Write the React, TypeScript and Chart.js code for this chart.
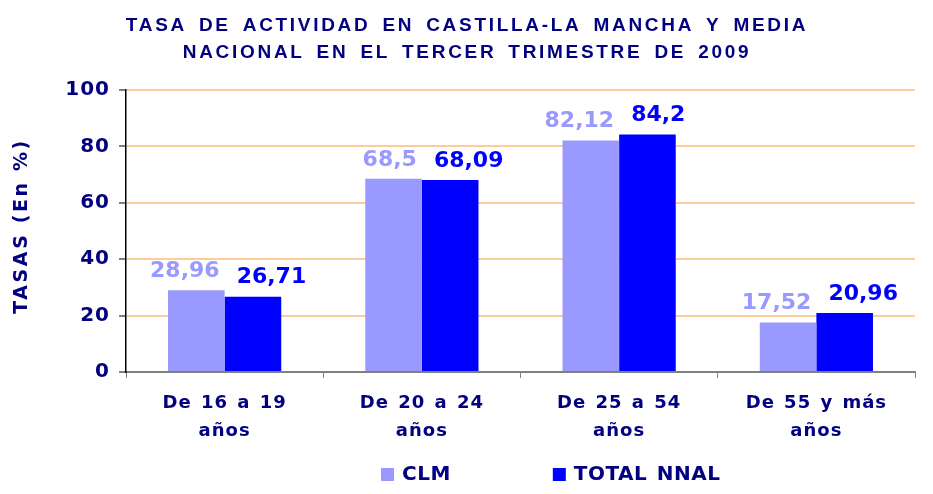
import React, { useEffect, useRef } from "react";
import { Chart, registerables } from "chart.js";

Chart.register(...registerables);

const categories: string[][] = [
  ["De 16 a 19", "años"],
  ["De 20 a 24", "años"],
  ["De 25 a 54", "años"],
  ["De 55 y más", "años"],
];
const seriesNames = ["CLM", "TOTAL NNAL"];
const clmValues = [28.96, 68.5, 82.12, 17.52];
const nnalValues = [26.71, 68.09, 84.2, 20.96];
const titleLines = [
  "TASA DE ACTIVIDAD EN CASTILLA-LA MANCHA Y MEDIA",
  "NACIONAL EN EL TERCER TRIMESTRE DE 2009",
];
const yAxisTitle = "TASAS (En %)";
const yMin = 0;
const yMax = 100;
const yStep = 20;

const NAVY = "#000080";
const CLM_COLOR = "#9999FF";
const NNAL_COLOR = "#0000FF";
const GRID_COLOR = "#FFCC99";

const fmt = (v: number) => String(v).replace(".", ",");

const spacingPlugin = {
  id: "textSpacing",
  beforeDraw(chart: any) {
    const ctx = chart.ctx as any;
    ctx.letterSpacing = "1px";
    ctx.wordSpacing = "2px";
  },
};

const titlePlugin = {
  id: "customTitle",
  afterDraw(chart: any) {
    const ctx = chart.ctx as any;
    ctx.save();
    ctx.fillStyle = NAVY;
    ctx.font = "bold 19px 'Liberation Sans'";
    ctx.letterSpacing = "2.7px";
    ctx.wordSpacing = "4px";
    ctx.textAlign = "center";
    ctx.textBaseline = "middle";
    const cx = 467;
    ctx.fillText(titleLines[0], cx, 26);
    ctx.fillText(titleLines[1], cx, 53);
    // y axis title
    ctx.letterSpacing = "2.6px";
    ctx.wordSpacing = "0px";
    ctx.font = "bold 19px 'DejaVu Sans'";
    ctx.translate(22, (chart.chartArea.top + chart.chartArea.bottom) / 2 - 5);
    ctx.rotate(-Math.PI / 2);
    ctx.fillText(yAxisTitle, 0, 0);
    ctx.restore();
  },
};

const dataLabelPlugin = {
  id: "dataLabels",
  afterDatasetsDraw(chart: any) {
    const ctx = chart.ctx as any;
    ctx.save();
    ctx.letterSpacing = "0px";
    ctx.wordSpacing = "0px";
    ctx.font = "bold 22px 'DejaVu Sans'";
    ctx.textBaseline = "middle";
    chart.data.datasets.forEach((ds: any, di: number) => {
      const meta = chart.getDatasetMeta(di);
      meta.data.forEach((bar: any, i: number) => {
        const v = ds.data[i];
        const half = bar.width / 2;
        ctx.fillStyle = di === 0 ? CLM_COLOR : NNAL_COLOR;
        if (di === 0) {
          ctx.textAlign = "right";
          ctx.fillText(fmt(v), bar.x + half - 5, bar.y - 19);
        } else {
          ctx.textAlign = "left";
          ctx.fillText(fmt(v), bar.x - half + 12, bar.y - 19);
        }
      });
    });
    ctx.restore();
  },
};

const legendPlugin = {
  id: "customLegend",
  afterDraw(chart: any) {
    const ctx = chart.ctx as any;
    ctx.save();
    ctx.letterSpacing = "0.5px";
    ctx.wordSpacing = "2px";
    ctx.font = "bold 20px 'DejaVu Sans'";
    ctx.textBaseline = "middle";
    ctx.textAlign = "left";
    const colors = [CLM_COLOR, NNAL_COLOR];
    let x = chart.chartArea.left + 255;
    const y = 475;
    seriesNames.forEach((name, i) => {
      ctx.fillStyle = colors[i];
      ctx.fillRect(x, y - 7, 13, 13);
      ctx.fillStyle = NAVY;
      ctx.fillText(name, x + 21, y);
      x += 21 + ctx.measureText(name).width + 102;
    });
    ctx.restore();
  },
};

export default function App() {
  const ref = useRef<HTMLCanvasElement>(null);
  useEffect(() => {
    if (!ref.current) return;
    const chart = new Chart(ref.current, {
      type: "bar",
      data: {
        labels: categories,
        datasets: [
          {
            label: seriesNames[0],
            data: clmValues,
            backgroundColor: CLM_COLOR,
            categoryPercentage: 0.574,
            barPercentage: 1,
          },
          {
            label: seriesNames[1],
            data: nnalValues,
            backgroundColor: NNAL_COLOR,
            categoryPercentage: 0.574,
            barPercentage: 1,
          },
        ],
      },
      options: {
        responsive: false,
        animation: false,
        layout: { padding: { top: 90, right: 18, bottom: 42, left: 0 } },
        plugins: {
          legend: { display: false },
          title: { display: false },
          tooltip: { enabled: false },
        },
        scales: {
          x: {
            grid: {
              offset: true,
              drawOnChartArea: false,
              drawTicks: true,
              tickLength: 6,
              tickColor: "#808080",
            },
            border: { color: "#808080", width: 2 },
            ticks: {
              color: NAVY,
              font: { family: "'DejaVu Sans'", size: 18, weight: "bold", lineHeight: 1.55 },
              padding: 11,
              maxRotation: 0,
              autoSkip: false,
            },
            afterFit(scale: any) {
              scale.height = 80;
            },
          },
          y: {
            min: yMin,
            max: yMax,
            ticks: {
              stepSize: yStep,
              color: NAVY,
              font: { family: "'DejaVu Sans'", size: 20, weight: "bold" },
              padding: 9,
            },
            grid: {
              color: GRID_COLOR,
              lineWidth: 2,
              tickLength: 7,
              tickColor: "#808080",
            },
            border: { color: "#000000", width: 1.5 },
            title: { display: false },
            afterFit(scale: any) {
              scale.width = 126;
            },
          },
        },
      },
      plugins: [spacingPlugin, titlePlugin, dataLabelPlugin, legendPlugin],
    } as any);
    return () => chart.destroy();
  }, []);
  return (
    <div style={{ position: "fixed", left: 0, top: 0, width: 933, height: 494, background: "#fff" }}>
      <canvas ref={ref} width={933} height={494} />
    </div>
  );
}
